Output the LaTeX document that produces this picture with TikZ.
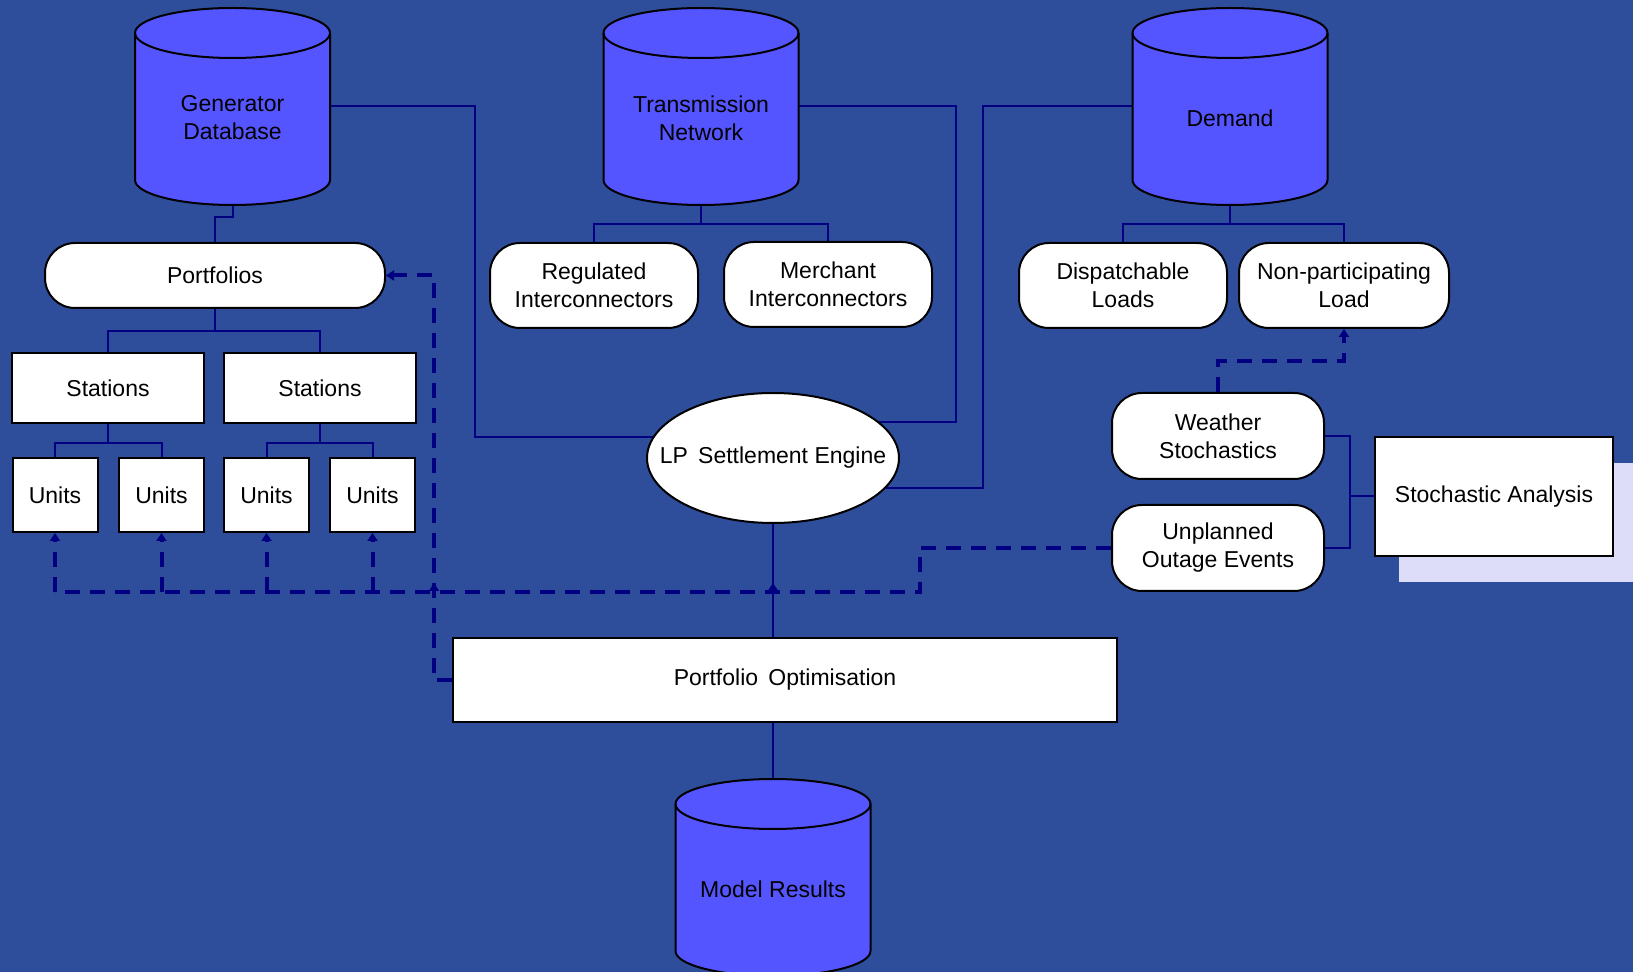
\documentclass[tikz,border=0pt]{standalone}
\usepackage{fontspec}
\setmainfont{Liberation Sans}
\usetikzlibrary{calc,arrows.meta,shapes.geometric}
\pgfdeclarelayer{bglayer}
\pgfdeclarelayer{wires}
\pgfsetlayers{bglayer,wires,main}
\definecolor{bgblue}{RGB}{46,78,156}
\definecolor{dbfill}{RGB}{85,85,255}
\definecolor{wire}{RGB}{0,0,128}
\definecolor{shadowc}{RGB}{221,221,250}

\tikzset{
  every node/.style={font=\fontsize{11.5pt}{14pt}\selectfont, text=black},
  box/.style={draw=black, line width=1pt, fill=white, inner sep=0pt, align=center},
  pill/.style={box, rounded corners=15pt},
  oval/.style={box, ellipse, inner xsep=-13pt, inner ysep=0pt},
  dbshape/.style={draw=black, line width=1pt, fill=dbfill},
  dbnode/.style={draw=none, inner sep=0pt, minimum width=97.5pt, minimum height=98.5pt},
  dbtext/.style={align=center, inner sep=0pt},
  wireline/.style={draw=wire, line width=1pt},
  dashwire/.style={draw=wire, line width=2pt, dash pattern=on 7.5pt off 5pt},
  tip/.style={-{Triangle[width=5pt,length=4pt]}},
}

% database cylinder: name, centre x, top y (downwards), label
\newcommand\dbcyl[4]{%
  \pgfmathsetmacro\cyA{-#3-25}%
  \pgfmathsetmacro\cyB{-#3-172}%
  \pgfmathsetmacro\cyL{#2-97.5}%
  \pgfmathsetmacro\cyR{#2+97.5}%
  \path[dbshape] (\cyL,\cyA) -- (\cyL,\cyB)
    arc[start angle=180, end angle=360, x radius=48.75pt, y radius=12.5pt]
    -- (\cyR,\cyA)
    arc[start angle=0, end angle=180, x radius=48.75pt, y radius=12.5pt] -- cycle;
  \draw[line width=1pt] (\cyL,\cyA)
    arc[start angle=180, end angle=360, x radius=48.75pt, y radius=12.5pt];
  \node[dbnode] (#1) at (#2,{-#3-98.5}) {};
  \node[dbtext] at (#2,{-#3-110}) {#4};
}

\begin{document}
\begin{tikzpicture}[x=0.5pt, y=0.5pt]
\useasboundingbox (0,0) rectangle (1633,-972);
\begin{pgfonlayer}{bglayer}
  \fill[bgblue] (0,0) rectangle (1633,-972);
\end{pgfonlayer}

% databases
\dbcyl{gen}{232.5}{8}{Generator\\Database}
\dbcyl{trans}{701}{8}{Transmission\\Network}
\dbcyl{dem}{1230}{8}{Demand}
\dbcyl{mr}{773}{779}{Model Results}

% generator side
\node[pill, minimum width=170pt, minimum height=32.5pt] (port) at (215,-275.5) {Portfolios};
\node[box, minimum width=96pt, minimum height=35pt] (st1) at (108,-388) {Stations};
\node[box, minimum width=96pt, minimum height=35pt] (st2) at (320,-388) {Stations};
\node[box, minimum width=42.5pt, minimum height=37pt] (u1) at (55,-495) {Units};
\node[box, minimum width=42.5pt, minimum height=37pt] (u2) at (161.5,-495) {Units};
\node[box, minimum width=42.5pt, minimum height=37pt] (u3) at (266.5,-495) {Units};
\node[box, minimum width=42.5pt, minimum height=37pt] (u4) at (372.5,-495) {Units};

% network and demand
\node[pill, minimum width=104pt, minimum height=42.5pt] (reg) at (594,-285.5) {Regulated\\Interconnectors};
\node[pill, minimum width=104pt, minimum height=42.5pt] (mer) at (828,-284.5) {Merchant\\Interconnectors};
\node[pill, minimum width=104pt, minimum height=42.5pt] (disp) at (1123,-285.5) {Dispatchable\\Loads};
\node[pill, minimum width=105pt, minimum height=42.5pt] (nonp) at (1344,-285.5) {Non-participating\\Load};

% engine and optimisation
\node[oval, minimum width=126pt, minimum height=65pt] (lp) at (773,-458) {LP\, Settlement Engine};
\node[box, minimum width=332pt, minimum height=42pt] (po) at (785,-680) {Portfolio\, Optimisation};

% stochastics
\node[pill, minimum width=106pt, minimum height=43pt] (wea) at (1218,-436) {Weather\\Stochastics};
\node[pill, minimum width=106pt, minimum height=43pt] (unp) at (1218,-548) {Unplanned\\Outage Events};
\begin{pgfonlayer}{wires}
  \fill[shadowc] (1399,-463) rectangle (1650,-582);
\end{pgfonlayer}
\node[box, minimum width=119pt, minimum height=59.5pt] (sa) at (1494,-496.5) {Stochastic Analysis};

\begin{pgfonlayer}{wires}
  % hierarchy trees
  \draw[wireline] (gen.south) -- ++(0,-12) -| (port.north);
  \draw[wireline] (port.south) -- ++(0,-22);
  \draw[wireline] (st1.north) |- ($(port.south)+(0,-22)$) -| (st2.north);
  \draw[wireline] (st1.south) -- ++(0,-19);
  \draw[wireline] (u1.north) |- ($(st1.south)+(0,-19)$) -| (u2.north);
  \draw[wireline] (st2.south) -- ++(0,-19);
  \draw[wireline] (u3.north) |- ($(st2.south)+(0,-19)$) -| (u4.north);
  \draw[wireline] (trans.south) -- ++(0,-19);
  \draw[wireline] (reg.north) |- ($(trans.south)+(0,-19)$) -| (mer.north);
  \draw[wireline] (dem.south) -- ++(0,-19);
  \draw[wireline] (disp.north) |- ($(dem.south)+(0,-19)$) -| (nonp.north);

  % inputs to the settlement engine
  \draw[wireline] (gen.east) -- ++(145,0) |- (lp.170);
  \draw[wireline] (trans.east) -- ++(157,0) |- (lp.19);
  \draw[wireline] (dem.west) -- ++(-149,0) |- (lp.-15);
  \draw[wireline] (lp.south) -- (lp.south |- po.north);
  \draw[wireline] (mr.north |- po.south) -- (mr.north);

  % stochastic analysis feeds
  \coordinate (sj) at ($(wea.east)+(25,0)$);
  \draw[wireline] (wea.east) -- (sj) -- (sj |- unp.east) -- (unp.east);
  \draw[wireline] (sj |- sa.west) -- (sa.west);

  % dashed stochastic links
  \draw[dashwire, tip] (wea.north) -- ++(0,31) -| (nonp.south);
  \coordinate (busR) at ($(unp.west)+(-191,-44)$);
  \coordinate (busL) at (u1.south |- busR);
  \draw[dashwire] (unp.west) -- (unp.west -| busR) -- (busR) -- (busL);
  \draw[dashwire, tip] (busL) -- (u1.south);
  \draw[dashwire, tip] (u2.south |- busR) -- (u2.south);
  \draw[dashwire, tip] (u3.south |- busR) -- (u3.south);
  \draw[dashwire, tip] (u4.south |- busR) -- (u4.south);

  % optimisation feedback to portfolios
  \coordinate (pj) at ($(po.west)+(-18,0)$);
  \draw[dashwire, tip] (po.west) -- (pj) |- (port.east);
  \draw[wireline, line width=2pt, tip] (pj |- busR) -- ++(0,9);
  \draw[wireline, line width=2pt, tip] (lp.south |- busR) -- ++(0,9);
\end{pgfonlayer}
\end{tikzpicture}
\end{document}
